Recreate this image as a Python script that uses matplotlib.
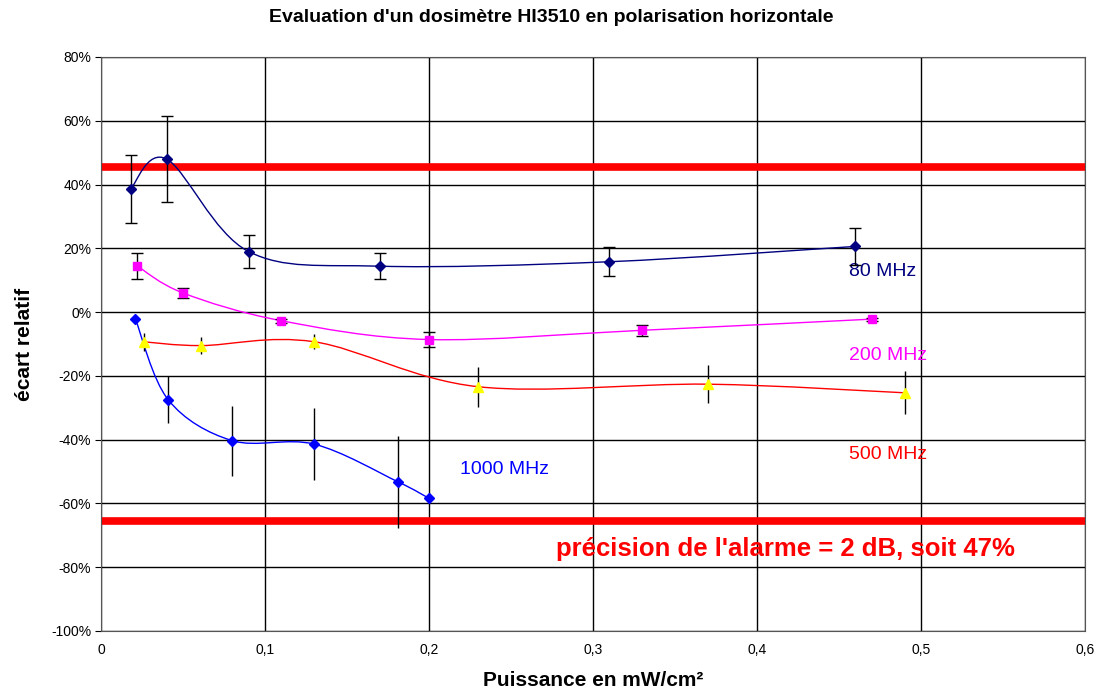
import matplotlib.pyplot as plt
from matplotlib.path import Path
from matplotlib.patches import PathPatch
from matplotlib.ticker import FuncFormatter

plt.rcParams['font.family'] = ['Liberation Sans', 'DejaVu Sans']

# data
x80 = [0.018, 0.040, 0.090, 0.170, 0.310, 0.460]
y80 = [38.6, 48.0, 19.0, 14.4, 15.8, 20.6]
e80 = [10.8, 13.5, 5.3, 4.0, 4.5, 5.7]

x200 = [0.022, 0.050, 0.110, 0.200, 0.330, 0.470]
y200 = [14.5, 6.0, -2.7, -8.6, -5.7, -2.2]
e200 = [4.0, 1.5, 0.6, 2.4, 1.8, 0.5]

x500 = [0.026, 0.061, 0.130, 0.230, 0.370, 0.490]
y500 = [-9.3, -10.5, -9.3, -23.4, -22.6, -25.3]
e500 = [2.8, 2.7, 2.3, 6.2, 6.0, 6.8]

x1000 = [0.021, 0.041, 0.080, 0.130, 0.181, 0.200]
y1000 = [-2.2, -27.5, -40.3, -41.4, -53.2, -58.4]
e1000 = [0.0, 7.4, 11.0, 11.3, 14.5, 0.0]

alarm_hi = 45.5
alarm_lo = -65.5


def smooth(ax, xs, ys, color):
    # Excel style smoothed line: cubic Bezier through every point
    verts = [(xs[0], ys[0])]
    codes = [Path.MOVETO]
    n = len(xs)
    for i in range(n - 1):
        i0 = max(i - 1, 0)
        i3 = min(i + 2, n - 1)
        c1 = (xs[i] + (xs[i + 1] - xs[i0]) / 6, ys[i] + (ys[i + 1] - ys[i0]) / 6)
        c2 = (xs[i + 1] - (xs[i3] - xs[i]) / 6, ys[i + 1] - (ys[i3] - ys[i]) / 6)
        verts += [c1, c2, (xs[i + 1], ys[i + 1])]
        codes += [Path.CURVE4] * 3
    ax.add_patch(PathPatch(Path(verts, codes), fill=False, edgecolor=color, lw=1.0, zorder=3))


fig = plt.figure(figsize=(10.95, 6.91), dpi=100)
ax = fig.add_axes([101 / 1095, 1 - 631 / 691, 984 / 1095, 574 / 691])

ax.axhline(alarm_hi, color='#ff0000', lw=5.5, zorder=2)
ax.axhline(alarm_lo, color='#ff0000', lw=5.5, zorder=2)

smooth(ax, x80, y80, '#000080')
smooth(ax, x200, y200, '#ff00ff')
smooth(ax, x500, y500, '#ff0000')
smooth(ax, x1000, y1000, '#0000ff')

ax.errorbar(x80, y80, yerr=e80, fmt='none', ecolor='black', elinewidth=1, capsize=4, zorder=4)
ax.errorbar(x200, y200, yerr=e200, fmt='none', ecolor='black', elinewidth=1, capsize=4, zorder=4)
ax.errorbar(x500, y500, yerr=e500, fmt='none', ecolor='black', elinewidth=1, capsize=0, zorder=4)
ax.errorbar(x1000, y1000, yerr=e1000, fmt='none', ecolor='black', elinewidth=1, capsize=0, zorder=4)

ax.plot(x80, y80, 'D', color='#000080', ms=5, zorder=5)
ax.plot(x200, y200, 's', color='#ff00ff', ms=6, zorder=5)
ax.plot(x500, y500, '^', color='#ffff00', ms=7, zorder=5)
ax.plot(x1000, y1000, 'D', color='#0000ff', ms=5, zorder=5)

ax.text(0.456, 12.8, '80 MHz', color='#000080', fontsize=14, va='center')
ax.text(0.456, -13.5, '200 MHz', color='#ff00ff', fontsize=14, va='center')
ax.text(0.456, -44.5, '500 MHz', color='#ff0000', fontsize=14, va='center')
ax.text(0.219, -49.3, '1000 MHz', color='#0000ff', fontsize=14, va='center')
ax.text(0.2775, -74.3, "précision de l'alarme = 2 dB, soit 47%", color='#ff0000',
        fontsize=18.5, fontweight='bold', va='center')

ax.set_xlim(0, 0.6)
ax.set_ylim(-100, 80)
ax.set_xticks([0, 0.1, 0.2, 0.3, 0.4, 0.5, 0.6])
ax.set_yticks(range(-100, 81, 20))
ax.xaxis.set_major_formatter(FuncFormatter(lambda v, p: ('%g' % round(v, 1)).replace('.', ',')))
ax.yaxis.set_major_formatter(FuncFormatter(lambda v, p: '%d%%' % v))
ax.grid(True, color='black', lw=1)
ax.set_axisbelow(True)
ax.tick_params(axis='y', length=4, labelsize=10, pad=3)
ax.tick_params(axis='x', length=0, labelsize=10, pad=9)
for s in ax.spines.values():
    s.set_color('#555555')

fig.text(0.503, 1 - 18 / 691, "Evaluation d'un dosimètre HI3510 en polarisation horizontale",
         fontsize=14, fontweight='bold', ha='center', va='center')
ax.set_xlabel('Puissance en mW/cm²', fontsize=15, fontweight='bold')
ax.xaxis.set_label_coords(0.5, -(671 - 631) / 574)
ax.set_ylabel('écart relatif', fontsize=15, fontweight='bold')
ax.yaxis.set_label_coords(-(101 - 34) / 984, 0.5)

fig.savefig('out.png', dpi=100)
